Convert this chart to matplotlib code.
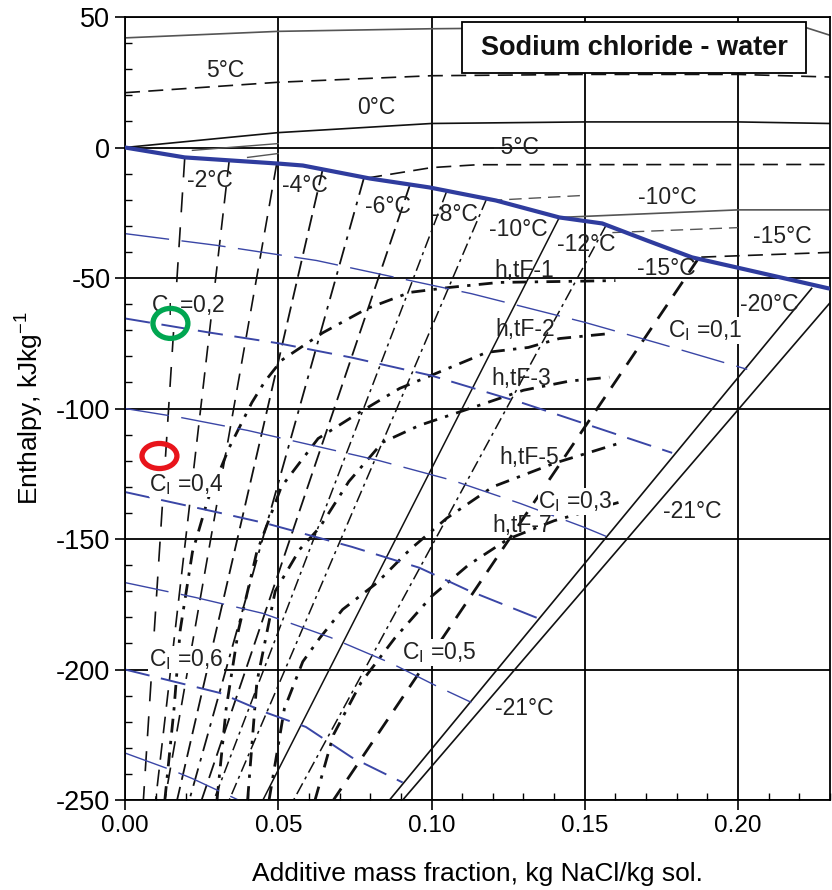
import numpy as np
import matplotlib
matplotlib.use("Agg")
import matplotlib.pyplot as plt
from matplotlib.patches import Ellipse, Rectangle
from matplotlib.ticker import MultipleLocator, FormatStrFormatter

plt.rcParams['font.family'] = ['Liberation Sans', 'DejaVu Sans']
plt.rcParams['mathtext.default'] = 'regular'
plt.rcParams['axes.unicode_minus'] = False

# ---------------- data ----------------
# freezing (liquidus) curve
freeze_x = [0.0, 0.0195, 0.0505, 0.058, 0.080, 0.0993, 0.121, 0.1417, 0.1557, 0.170, 0.185, 0.1997, 0.2296]
freeze_y = [0.0, -3.8, -6.2, -6.9, -11.9, -15.3, -20.3, -26.8, -29.1, -35.5, -42.1, -46.0, -54.0]

# liquid-region isotherms
iso_p10_x = [0.0, 0.05, 0.10, 0.15, 0.20, 0.222, 0.23]
iso_p10_y = [42.0, 44.5, 45.5, 46.0, 46.0, 46.0, 43.0]
iso_p5_x = [0.0, 0.05, 0.10, 0.15, 0.20, 0.23]
iso_p5_y = [21.0, 25.0, 27.5, 28.0, 28.0, 27.0]
iso_0_x = [0.0, 0.05, 0.10, 0.15, 0.20, 0.23]
iso_0_y = [0.0, 5.7, 9.2, 9.8, 9.8, 9.2]
iso_m1_x = [0.022, 0.05]
iso_m1_y = [-1.1, 1.5]
iso_m2_x = [0.040, 0.05]
iso_m2_y = [-3.8, -2.3]
iso_m5_x = [0.079, 0.10, 0.115, 0.23]
iso_m5_y = [-11.7, -7.7, -6.6, -6.5]
iso_m8_x = [0.119, 0.149]
iso_m8_y = [-20.3, -18.4]
iso_m10_x = [0.1417, 0.20, 0.23]
iso_m10_y = [-26.8, -23.9, -23.9]
iso_m12_x = [0.159, 0.20]
iso_m12_y = [-32.6, -30.7]
iso_m15_x = [0.188, 0.23]
iso_m15_y = [-42.0, -40.2]

# two-phase isotherms: start on freezing curve, end at bottom of chart
tp_T = [-1, -2, -3, -4, -5, -6, -7, -8, -10, -12, -15]
tp_xtop = [0.0195, 0.034, 0.0495, 0.0645, 0.078, 0.093, 0.105, 0.118, 0.1417, 0.157, 0.187]
tp_xbot = [0.006, 0.010, 0.013, 0.017, 0.021, 0.025, 0.029, 0.034, 0.045, 0.055, 0.068]

# eutectic lines
eut_a_x = [0.224, 0.0863]
eut_a_y = [-54.0, -250.0]
eut_b_x = [0.23, 0.0906]
eut_b_y = [-59.5, -250.0]

# ice-fraction lines C_I
ci1_x = [0.0, 0.03, 0.0625, 0.113, 0.15, 0.174, 0.203]
ci1_y = [-33.0, -37.5, -43.3, -56.0, -67.0, -75.0, -85.0]
ci2_x = [0.0, 0.027, 0.05, 0.074, 0.10, 0.13, 0.1785]
ci2_y = [-65.5, -70.8, -75.0, -80.5, -87.4, -98.0, -117.0]
ci3_x = [0.0, 0.018, 0.04, 0.083, 0.107, 0.129, 0.15, 0.157]
ci3_y = [-100.0, -103.4, -108.4, -120.0, -127.6, -136.4, -145.6, -149.0]
ci4_x = [0.0, 0.031, 0.046, 0.074, 0.096, 0.112, 0.135]
ci4_y = [-132.0, -140.0, -144.0, -153.0, -161.0, -169.7, -180.5]
ci5_x = [0.0, 0.023, 0.045, 0.067, 0.087, 0.1026, 0.113]
ci5_y = [-166.7, -172.4, -178.5, -187.7, -197.7, -206.9, -212.6]
ci6_x = [0.0, 0.031, 0.046, 0.059, 0.074, 0.0906]
ci6_y = [-200.0, -209.0, -216.5, -222.0, -233.7, -243.3]
ci7_x = [0.0, 0.0156, 0.022, 0.037]
ci7_y = [-232.0, -238.7, -241.8, -250.0]

# h,tF curves
htf1_x = [0.013, 0.016, 0.018, 0.022, 0.027, 0.034, 0.0414, 0.0456, 0.0511, 0.0645, 0.079, 0.093, 0.106, 0.122, 0.16]
htf1_y = [-250, -215, -185, -155, -135, -115, -97.7, -89.7, -81.5, -71, -61.7, -55.5, -53.6, -51.7, -51]
htf2_x = [0.030, 0.033, 0.037, 0.043, 0.051, 0.063, 0.0765, 0.0896, 0.1026, 0.118, 0.1316, 0.1417, 0.158]
htf2_y = [-250, -215, -185, -155, -130, -111.5, -101.5, -92.3, -86, -78.5, -76.6, -73.2, -71.3]
htf3_x = [0.040, 0.043, 0.049, 0.057, 0.0635, 0.073, 0.084, 0.096, 0.115, 0.13, 0.145, 0.158]
htf3_y = [-250, -205, -170, -154, -145.6, -128, -113, -106.5, -99, -93, -89.5, -88]
htf5_x = [0.047, 0.052, 0.058, 0.0635, 0.071, 0.082, 0.093, 0.105, 0.12, 0.14, 0.161]
htf5_y = [-250, -215, -197, -188, -177, -167, -154, -142, -130, -121, -113.4]
htf7_x = [0.062, 0.068, 0.077, 0.088, 0.10, 0.112, 0.125, 0.14, 0.161]
htf7_y = [-250, -225, -205, -188, -172, -160, -150, -143, -136]

# labels
temp_labels = ["5°C", "0°C", "-5°C", "-2°C", "-4°C", "-6°C", "-8°C", "-10°C", "-12°C",
               "-10°C", "-15°C", "-15°C", "-20°C", "-21°C", "-21°C"]
temp_label_pos = [(0.0326, 29.5), (0.082, 15.3), (0.1277, 0.0), (0.0277, -12.6), (0.0586, -14.6),
                  (0.0857, -22.6), (0.1075, -25.6), (0.1283, -31.4), (0.1505, -37.2),
                  (0.1769, -19.2), (0.2143, -34.1), (0.1765, -46.4), (0.2101, -60.2),
                  (0.185, -139.5), (0.1303, -215.0)]
htf_labels = ["h,tF-1", "h,tF-2", "h,tF-3", "h,tF-5", "h,tF-7"]
htf_label_pos = [(0.1303, -47.1), (0.1306, -69.7), (0.1293, -88.5), (0.1319, -118.8), (0.1296, -144.8)]
ci_labels = ["0,1", "0,2", "0,3", "0,4", "0,5", "0,6"]
ci_label_pos = [(0.1893, -70.1), (0.0206, -60.5), (0.147, -135.6), (0.0201, -129.0), (0.1026, -193.5), (0.0199, -196.2)]

title_text = "Sodium chloride - water"
x_ticks = [0.00, 0.05, 0.10, 0.15, 0.20]
y_ticks = [50, 0, -50, -100, -150, -200, -250]

# ---------------- figure ----------------
fig = plt.figure(figsize=(8.32, 8.90), dpi=100)
ax = fig.add_axes([125/832, 1 - 800/890, 705/832, 783/890])
ax.set_xlim(0, 0.23)
ax.set_ylim(-250, 50)

ax.set_xticks(x_ticks)
ax.set_yticks(y_ticks)
ax.xaxis.set_major_formatter(FormatStrFormatter('%.2f'))
ax.xaxis.set_minor_locator(MultipleLocator(0.01))
ax.yaxis.set_minor_locator(MultipleLocator(10))
ax.tick_params(which='major', direction='out', length=7, width=1.2, colors='black')
ax.tick_params(axis='x', which='major', labelsize=17.5)
ax.tick_params(axis='y', which='major', labelsize=19.5)
ax.tick_params(which='minor', direction='in', length=5, width=1.0)
ax.grid(True, which='major', color='black', linewidth=1.3, zorder=0)
ax.set_axisbelow(True)
for s in ax.spines.values():
    s.set_linewidth(1.3)

ax.set_xlabel("Additive mass fraction, kg NaCl/kg sol.", fontsize=19, labelpad=18)
ax.set_ylabel("Enthalpy, kJkg$^{-1}$", fontsize=19, labelpad=7)

gray = '#555555'
blk = '#111111'
blue = '#3a46a6'

# liquid isotherms
ax.plot(iso_p10_x, iso_p10_y, color=gray, lw=1.2)
ax.plot(iso_p5_x, iso_p5_y, color=blk, lw=1.2, ls=(0, (9, 5)))
ax.plot(iso_0_x, iso_0_y, color=blk, lw=1.2)
ax.plot(iso_m1_x, iso_m1_y, color=gray, lw=1.0)
ax.plot(iso_m2_x, iso_m2_y, color=gray, lw=1.0)
ax.plot(iso_m5_x, iso_m5_y, color=blk, lw=1.2, ls=(0, (9, 5)))
ax.plot(iso_m8_x, iso_m8_y, color=gray, lw=1.0, ls=(0, (9, 5)))
ax.plot(iso_m10_x, iso_m10_y, color=gray, lw=1.2)
ax.plot(iso_m12_x, iso_m12_y, color=gray, lw=1.0, ls=(0, (9, 5)))
ax.plot(iso_m15_x, iso_m15_y, color=blk, lw=1.2, ls=(0, (9, 5)))

# two-phase isotherms
tp_styles = [
    dict(ls=(0, (12, 9)), lw=1.2),
    dict(ls=(0, (10, 6)), lw=1.2),
    dict(ls=(0, (10, 6)), lw=1.2),
    dict(ls=(0, (9, 4)), lw=1.3),
    dict(ls=(0, (10, 4, 2, 4)), lw=1.3),
    dict(ls=(0, (9, 4)), lw=1.3),
    dict(ls=(0, (8, 3, 2, 3)), lw=1.1),
    dict(ls=(0, (8, 3, 2, 3)), lw=1.1),
    dict(ls='-', lw=1.1),
    dict(ls=(0, (8, 3, 2, 3)), lw=1.1),
    dict(ls=(0, (6, 4)), lw=2.0),
]
for T, xt, xb, st in zip(tp_T, tp_xtop, tp_xbot, tp_styles):
    yt = np.interp(xt, freeze_x, freeze_y)
    ax.plot([xt, xb], [yt, -250], color=blk, **st)

# h,tF curves
for hx, hy in [(htf1_x, htf1_y), (htf2_x, htf2_y), (htf3_x, htf3_y), (htf5_x, htf5_y), (htf7_x, htf7_y)]:
    ax.plot(hx, hy, color=blk, lw=2.0, ls=(0, (5, 3, 1.2, 3)))

# eutectic lines
ax.plot(eut_a_x, eut_a_y, color=blk, lw=1.2)
ax.plot(eut_b_x, eut_b_y, color=blk, lw=1.2)

# C_I lines
long_dash = (0, (32, 9))
short_dash = (0, (13, 6))
for cx, cy, ls, lw in [(ci1_x, ci1_y, long_dash, 1.0), (ci2_x, ci2_y, short_dash, 1.4),
                       (ci3_x, ci3_y, long_dash, 1.0), (ci4_x, ci4_y, short_dash, 1.4),
                       (ci5_x, ci5_y, long_dash, 1.0), (ci6_x, ci6_y, short_dash, 1.4),
                       (ci7_x, ci7_y, long_dash, 1.0)]:
    ax.plot(cx, cy, color=blue, lw=lw, ls=ls)

# freezing curve
ax.plot(freeze_x, freeze_y, color='#2f3c9e', lw=3.0, solid_capstyle='round', zorder=5)

# labels
tc = '#222222'
for t, (x, y) in zip(temp_labels, temp_label_pos):
    ax.text(x, y, t, ha='center', va='center', fontsize=16.5, color=tc, zorder=6)
for t, (x, y) in zip(htf_labels, htf_label_pos):
    ax.text(x, y, t, ha='center', va='center', fontsize=16.5, color=tc, zorder=6)
for t, (x, y) in zip(ci_labels, ci_label_pos):
    ax.text(x, y, "C$_{\\mathregular{I}}$ =" + t, ha='center', va='center', fontsize=16.5, color=tc,
            zorder=6, bbox=dict(facecolor='white', edgecolor='none', pad=0.5))

# title box
ax.add_patch(Rectangle((0.1101, 28.4), 0.112, 19.5, facecolor='white', edgecolor='black',
                       lw=1.3, zorder=7))
ax.text(0.1661, 38.1, title_text, ha='center', va='center', fontsize=19.5, fontweight='bold',
        color='#111111', zorder=8)

# highlight ellipses
ax.add_patch(Ellipse((0.01482, -67.4), 0.0114, 11.5, fill=False, edgecolor='#00a651', lw=3.8, zorder=9))
ax.add_patch(Ellipse((0.01124, -118.2), 0.0114, 9.6, fill=False, edgecolor='#e8141b', lw=3.8, zorder=9))

fig.savefig("out.png", dpi=100)
